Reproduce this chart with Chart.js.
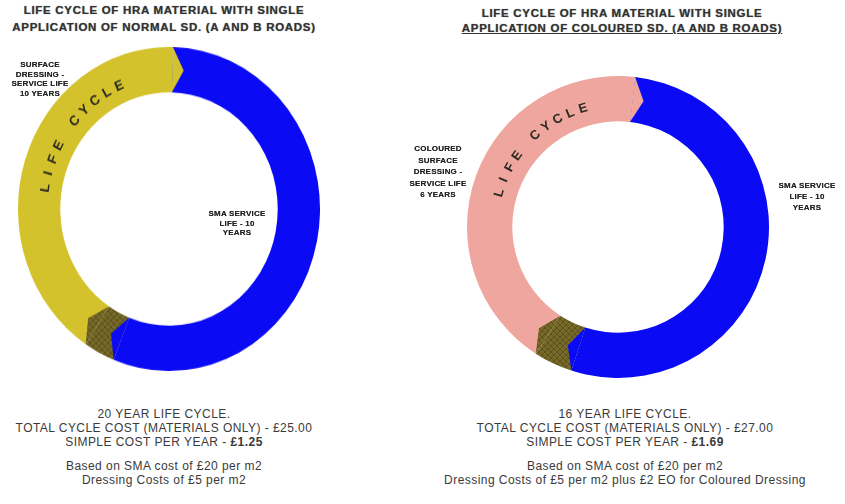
<!DOCTYPE html>
<html>
<head>
<meta charset="utf-8">
<script src="https://cdn.jsdelivr.net/npm/chart.js@4"></script>
<style>
	body { margin: 0; width: 845px; height: 504px; background: #fff; position: relative; overflow: hidden; }
	.t { position: absolute; font-family: 'Liberation Sans', Arial, sans-serif; text-align: center; color: #2b2b2b; }
	.title { font-size: 11.5px; font-weight: bold; line-height: 17px; letter-spacing: 0.7px; color: #333; text-shadow: 0 0 1px #777; }
	.small { font-size: 8px; font-weight: bold; letter-spacing: 0.2px; color: #222; text-shadow: 0 0 0.6px #666; }
	.cap { font-size: 12px; line-height: 14px; letter-spacing: 0.45px; color: #3a3a3a; }
	canvas { position: absolute; }
</style>
</head>
<body>
<div class="t title" style="left:0;top:2px;width:328px;">LIFE CYCLE OF HRA MATERIAL WITH SINGLE<br>APPLICATION OF NORMAL SD. (A AND B ROADS)</div>
<div class="t title" style="left:440px;top:6px;width:364px;line-height:15px;">LIFE CYCLE OF HRA MATERIAL WITH SINGLE<br><u>APPLICATION OF COLOURED SD. (A AND B ROADS)</u></div>

<!-- the left ring is drawn a little taller than wide, as in the original -->
<canvas id="normalChart" width="302" height="302" style="left:18px;top:58px;transform:scale(1,1.073);transform-origin:50% 50%;"></canvas>
<canvas id="colouredChart" width="302" height="302" style="left:467px;top:76px;"></canvas>

<div class="t small" style="left:0;top:60px;width:80px;line-height:9.5px;">SURFACE<br>DRESSING -<br>SERVICE LIFE<br>10 YEARS</div>
<div class="t small" style="left:195px;top:209px;width:84px;line-height:9.5px;">SMA SERVICE<br>LIFE - 10<br>YEARS</div>
<div class="t small" style="left:394px;top:143px;width:88px;line-height:11.5px;">COLOURED<br>SURFACE<br>DRESSING -<br>SERVICE LIFE<br>6 YEARS</div>
<div class="t small" style="left:765px;top:180px;width:84px;line-height:11px;">SMA SERVICE<br>LIFE - 10<br>YEARS</div>

<div class="t cap" style="left:0;top:407px;width:328px;">20 YEAR LIFE CYCLE.<br>TOTAL CYCLE COST (MATERIALS ONLY) - £25.00<br>SIMPLE COST PER YEAR - <b>£1.25</b><div style="height:10px"></div>Based on SMA cost of £20 per m2<br>Dressing Costs of £5 per m2</div>
<div class="t cap" style="left:420px;top:407px;width:410px;">16 YEAR LIFE CYCLE.<br>TOTAL CYCLE COST (MATERIALS ONLY) - £27.00<br>SIMPLE COST PER YEAR - <b>£1.69</b><div style="height:10px"></div>Based on SMA cost of £20 per m2<br>Dressing Costs of £5 per m2 plus £2 EO for Coloured Dressing</div>

<script>
// share of the ring (degrees) taken by each part, clockwise from the top
const segmentLabels = ['SMA service life', 'Overlap', 'Surface dressing'];
const normalValues = [200, 12, 148];
const colouredValues = [191.5, 15, 153.5];
const normalStart = 1.5;
const colouredStart = 6.5;
const ringText = 'LIFE CYCLE';

function hatch() {
	const c = document.createElement('canvas');
	c.width = 6; c.height = 6;
	const g = c.getContext('2d');
	g.fillStyle = '#76692a';
	g.fillRect(0, 0, 6, 6);
	g.strokeStyle = '#5c521a';
	g.lineWidth = 1;
	g.beginPath();
	g.moveTo(0, 6); g.lineTo(6, 0);
	g.moveTo(0, 0); g.lineTo(6, 6);
	g.stroke();
	return g.createPattern(c, 'repeat');
}

const ringDecor = {
	id: 'ringDecor',
	afterDatasetsDraw(chart, args, opts) {
		const ctx = chart.ctx;
		const arcs = chart.getDatasetMeta(0).data;
		let cx = 0, cy = 0, mid = 0;
		arcs.forEach(function(arc) {
			const p = arc.getProps(['x', 'y', 'endAngle', 'innerRadius', 'outerRadius']);
			const a = p.endAngle;
			const t = a + opts.tip * Math.PI / 180;
			cx = p.x; cy = p.y;
			mid = (p.innerRadius + p.outerRadius) / 2;
			ctx.save();
			ctx.beginPath();
			ctx.moveTo(p.x + p.outerRadius * Math.cos(a), p.y + p.outerRadius * Math.sin(a));
			ctx.lineTo(p.x + mid * Math.cos(t), p.y + mid * Math.sin(t));
			ctx.lineTo(p.x + p.innerRadius * Math.cos(a), p.y + p.innerRadius * Math.sin(a));
			ctx.closePath();
			ctx.fillStyle = arc.options.backgroundColor;
			ctx.fill();
			ctx.restore();
		});

		ctx.save();
		ctx.font = 'bold 13px "Liberation Sans", Arial, sans-serif';
		ctx.fillStyle = '#2a2a20';
		ctx.textAlign = 'center';
		ctx.textBaseline = 'middle';
		const r = mid - 5;
		for (let i = 0; i < opts.text.length; i++) {
			const th = (opts.textStart + i * opts.textStep) * Math.PI / 180;
			ctx.save();
			ctx.translate(cx + r * Math.sin(th), cy - r * Math.cos(th));
			ctx.rotate(th);
			ctx.fillText(opts.text[i], 0, 0);
			ctx.restore();
		}
		ctx.restore();
	}
};

function makeRing(id, values, colours, start, textStart, cutout) {
	new Chart(document.getElementById(id).getContext('2d'), {
		type: 'doughnut',
		data: {
			labels: segmentLabels,
			datasets: [{
				data: values,
				backgroundColor: colours,
				borderWidth: 0
			}]
		},
		options: {
			responsive: false,
			animation: false,
			rotation: start,
			cutout: cutout,
			layout: { padding: 0 },
			plugins: {
				legend: { display: false },
				tooltip: { enabled: false },
				ringDecor: { tip: 5, text: ringText, textStart: textStart, textStep: 6.4 }
			}
		},
		plugins: [ringDecor]
	});
}

makeRing('normalChart', normalValues, ['#0a0af5', hatch(), '#d4c22c'], normalStart, 279, '72%');
makeRing('colouredChart', colouredValues, ['#0a0af5', hatch(), '#eea69f'], colouredStart, 286, '70%');
</script>
</body>
</html>
